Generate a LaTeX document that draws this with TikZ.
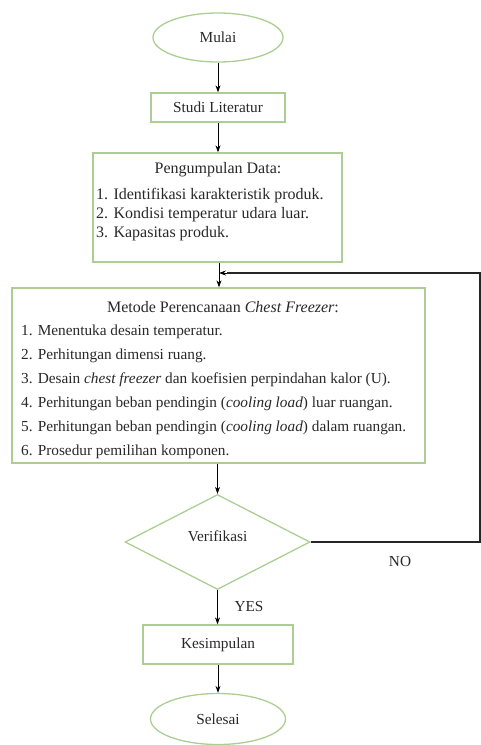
\documentclass[tikz,border=0pt]{standalone}
\usepackage{fontspec}
\setmainfont{Liberation Serif}
\usetikzlibrary{shapes.geometric,arrows.meta}
\definecolor{bgreen}{RGB}{172,206,146}
\definecolor{txt}{RGB}{40,40,40}
\begin{document}
\begin{tikzpicture}[x=1pt,y=-1pt,
  every node/.style={text=txt, font=\fontsize{15.3}{18}\selectfont},
  big/.style={font=\fontsize{16}{19}\selectfont},
  term/.style={ellipse, draw=bgreen, line width=1.3pt, inner sep=0pt},
  procbox/.style={draw=bgreen, line width=1.3pt, inner sep=0pt},
  decision/.style={diamond, draw=bgreen, line width=1.3pt, inner sep=0pt, minimum width=185pt, minimum height=95pt},
  conn/.style={-{Stealth[length=7pt,width=5pt]}, line width=0.8pt, black},
  back/.style={line width=1.7pt, black!85},
  item/.style={anchor=west, inner sep=0pt}
]
\useasboundingbox (0,0) rectangle (481,745);

\node[term, minimum width=130pt, minimum height=49pt] (mulai) at (218,37.5) {Mulai};
\node[procbox, minimum width=134pt, minimum height=29pt] (studi) at (218,107.5) {Studi Literatur};
\node[procbox, minimum width=249pt, minimum height=109pt] (peng) at (217.5,207.5) {};
\node[big, inner sep=0pt] (pengT) at (218,170) {Pengumpulan Data:};
\node[big, item] (p1) at (96,196) {1. Identifikasi karakteristik produk.};
\node[big, item] (p2) at (96,215) {2. Kondisi temperatur udara luar.};
\node[big, item] (p3) at (96,234) {3. Kapasitas produk.};

\node[procbox, minimum width=413pt, minimum height=175pt] (meto) at (218.5,375.5) {};
\node[big, inner sep=0pt] (metoT) at (223,307) {Metode Perencanaan \textit{Chest Freezer}:};
\node[item] (m1) at (21,332) {1. Menentuka desain temperatur.};
\node[item] (m2) at (21,356) {2. Perhitungan dimensi ruang.};
\node[item] (m3) at (21,380) {3. Desain \textit{chest freezer} dan koefisien perpindahan kalor (U).};
\node[item] (m4) at (21,404) {4. Perhitungan beban pendingin (\textit{cooling load}) luar ruangan.};
\node[item] (m5) at (21,428) {5. Perhitungan beban pendingin (\textit{cooling load}) dalam ruangan.};
\node[item] (m6) at (21,452) {6. Prosedur pemilihan komponen.};

\node[decision] (veri) at (217.5,542) {};
\node[inner sep=0pt] (veriT) at (217.5,536) {Verifikasi};
\node[procbox, minimum width=150pt, minimum height=39pt] (kesi) at (218,644.5) {Kesimpulan};
\node[term, minimum width=135pt, minimum height=51pt] (sele) at (218,719) {Selesai};

\node (yes) at (249,607) {YES};
\node (no) at (400,562) {NO};

\coordinate (join) at (219,273);
\coordinate (rt) at (480,542);
\coordinate (rtop) at (480,273);

\draw[conn] (mulai.south) -- (studi.north);
\draw[conn] (studi.south) -- (studi.south |- peng.north);
\draw[conn] (peng.south -| join) -- (join |- meto.north);
\draw[conn] (meto.south -| veri.north) -- (veri.north);
\draw[conn] (veri.south) -- (veri.south |- kesi.north);
\draw[conn] (kesi.south) -- (sele.north);
\draw[back] (veri.east) -- (rt) -- (rtop) -- ([xshift=8pt]join);
\draw[conn] ([xshift=8pt]join) -- (join);
\end{tikzpicture}
\end{document}
